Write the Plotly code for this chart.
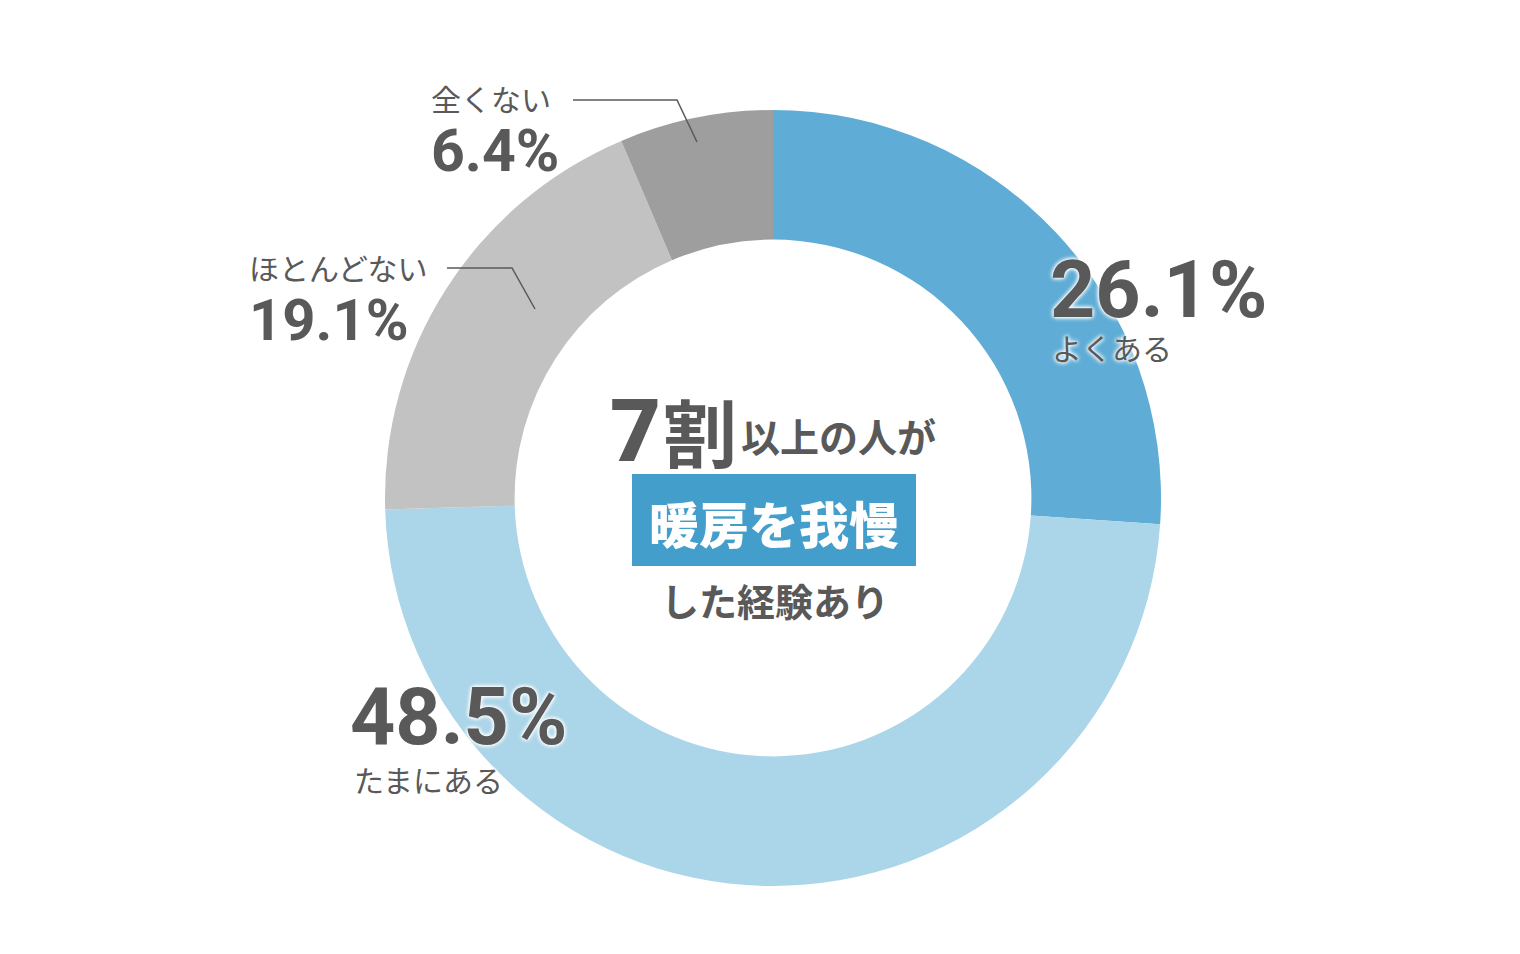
import plotly.graph_objects as go

# ---- data ----
categories = ["よくある", "たまにある", "ほとんどない", "全くない"]
values = [26.1, 48.5, 19.1, 6.4]
pct_labels = ["26.1%", "48.5%", "19.1%", "6.4%"]
colors = ["#5FADD6", "#ABD5E8", "#C2C2C2", "#9E9E9E"]

W, H = 1520, 954
TXT = "#595959"
JP = "Noto Sans CJK JP"
NUM = "Roboto"
GLOW = "0px 0px 5px white, 0px 0px 5px white, 0px 0px 3px white"

fig = go.Figure()

cx, cy, R = 773, 498, 388
fig.add_trace(go.Pie(
    labels=categories, values=values, sort=False, direction="clockwise",
    rotation=0, hole=0.666,
    marker=dict(colors=colors, line=dict(width=0)),
    textinfo="none", hoverinfo="label+percent", showlegend=False,
    domain=dict(x=[(cx - R) / W, (cx + R) / W], y=[1 - (cy + R) / H, 1 - (cy - R) / H]),
))

# invisible pixel-space axes for annotations
fig.update_xaxes(range=[0, W], visible=False, fixedrange=True)
fig.update_yaxes(range=[H, 0], visible=False, fixedrange=True)

def ann(x, y, text, size, family, color=TXT, weight=400, xanchor="left", shadow=None):
    font = dict(size=size, family=family, color=color, weight=weight)
    if shadow:
        font["shadow"] = shadow
    fig.add_annotation(x=x, y=y, xref="x", yref="y", text=text, showarrow=False,
                       xanchor=xanchor, yanchor="middle", font=font)

# よくある
ann(1048, 290, pct_labels[0], 79, NUM, weight=700, shadow=GLOW)
ann(1050, 347, categories[0], 30, JP, shadow=GLOW)
# たまにある
ann(348, 717, pct_labels[1], 79, NUM, weight=700, shadow=GLOW)
ann(352, 779, categories[1], 30, JP, shadow=GLOW)
# ほとんどない
ann(247, 267, categories[2], 30, JP)
ann(247, 320, pct_labels[2], 58, NUM, weight=700)
# 全くない
ann(429, 98, categories[3], 30, JP)
ann(429, 150, pct_labels[3], 59, NUM, weight=700)

# leader lines
fig.add_shape(type="path", xref="x", yref="y", path="M 573 100 L 677 100 L 697 142",
              line=dict(color=TXT, width=1.5))
fig.add_shape(type="path", xref="x", yref="y", path="M 447 268 L 512 268 L 535 309",
              line=dict(color=TXT, width=1.5))

# centre text
ann(608, 430, "7", 88, NUM, weight=900)
ann(661, 429, "割", 74, JP, weight=700)
ann(739, 435, "以上の人が", 39, JP, weight=700)
fig.add_shape(type="rect", xref="x", yref="y", x0=632, x1=916, y0=474, y1=566,
              fillcolor="#439ECC", line=dict(width=0), layer="above")
ann(774, 522, "暖房を我慢", 50, JP, color="white", weight=900, xanchor="center")
ann(775, 599, "した経験あり", 38, JP, weight=700, xanchor="center")

fig.update_layout(width=W, height=H, margin=dict(l=0, r=0, t=0, b=0),
                  paper_bgcolor="white", plot_bgcolor="white")
fig.write_html("out.html")
